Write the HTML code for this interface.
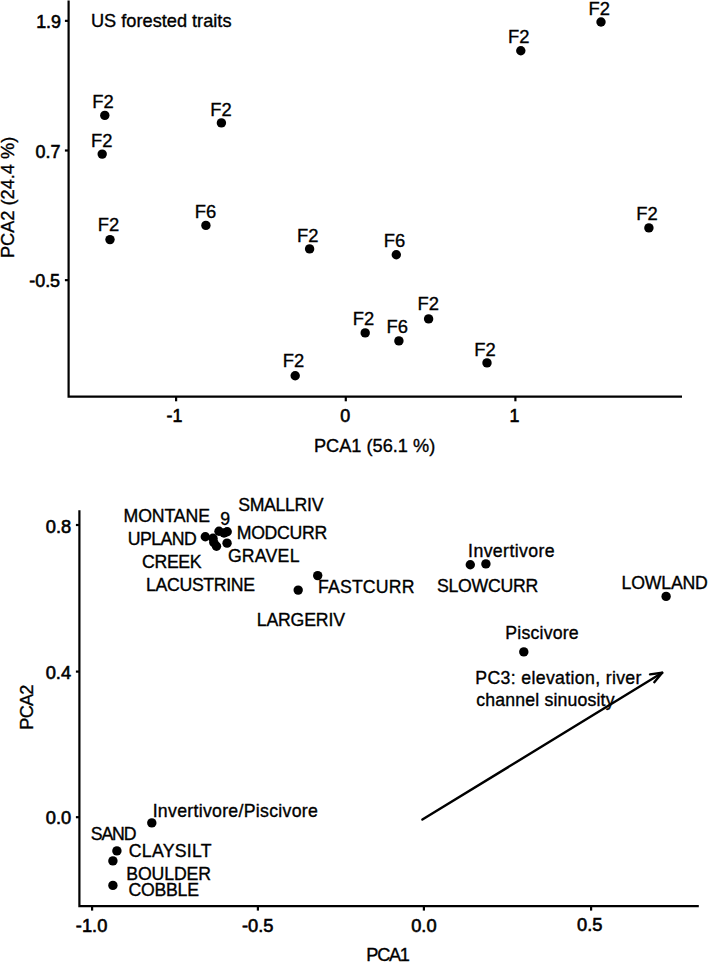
<!DOCTYPE html>
<html><head><meta charset="utf-8"><style>
html,body{margin:0;padding:0;background:#fff;}
svg{display:block;}
text{font-family:"Liberation Sans", sans-serif;fill:#000;text-anchor:middle;}
text.s{stroke:#000;stroke-width:0.35px;}
text.t{stroke:#000;stroke-width:0.6px;}
</style></head><body>
<svg width="709" height="962" viewBox="0 0 709 962">
<rect width="709" height="962" fill="#fff"/>
<g stroke="#000" stroke-width="2.2" stroke-linecap="butt" stroke-linejoin="miter">
<path d="M68.6 0.5 V396.7 H682" fill="none"/>
<line x1="64.9" y1="20.85" x2="68.6" y2="20.85"/>
<line x1="64.9" y1="150.50" x2="68.6" y2="150.50"/>
<line x1="64.9" y1="280.15" x2="68.6" y2="280.15"/>
<line x1="176.10" y1="396.7" x2="176.10" y2="401.3"/>
<line x1="345.80" y1="396.7" x2="345.80" y2="401.3"/>
<line x1="515.40" y1="396.7" x2="515.40" y2="401.3"/>
<path d="M79.4 510.3 V906.1 H698.8" fill="none"/>
<line x1="75.9" y1="525.00" x2="79.4" y2="525.00"/>
<line x1="75.9" y1="671.60" x2="79.4" y2="671.60"/>
<line x1="75.9" y1="817.20" x2="79.4" y2="817.20"/>
<line x1="92.10" y1="906.1" x2="92.10" y2="910.6"/>
<line x1="257.90" y1="906.1" x2="257.90" y2="910.6"/>
<line x1="423.90" y1="906.1" x2="423.90" y2="910.6"/>
<line x1="591.10" y1="906.1" x2="591.10" y2="910.6"/>
</g>
<g fill="#000">
<circle cx="104.80" cy="115.40" r="4.70"/>
<circle cx="102.20" cy="154.10" r="4.70"/>
<circle cx="221.40" cy="122.90" r="4.70"/>
<circle cx="601.00" cy="22.00" r="4.70"/>
<circle cx="520.80" cy="50.70" r="4.70"/>
<circle cx="205.90" cy="225.40" r="4.70"/>
<circle cx="648.90" cy="227.90" r="4.70"/>
<circle cx="110.00" cy="239.60" r="4.70"/>
<circle cx="309.60" cy="248.90" r="4.70"/>
<circle cx="396.30" cy="254.80" r="4.70"/>
<circle cx="428.60" cy="318.90" r="4.70"/>
<circle cx="365.20" cy="332.90" r="4.70"/>
<circle cx="398.90" cy="340.90" r="4.70"/>
<circle cx="487.00" cy="362.90" r="4.70"/>
<circle cx="295.20" cy="375.80" r="4.70"/>
<circle cx="205.30" cy="536.70" r="4.70"/>
<circle cx="213.00" cy="538.20" r="4.70"/>
<circle cx="213.80" cy="542.50" r="4.70"/>
<circle cx="216.50" cy="546.30" r="4.70"/>
<circle cx="219.00" cy="531.30" r="4.70"/>
<circle cx="227.20" cy="531.80" r="4.70"/>
<circle cx="224.00" cy="533.00" r="4.70"/>
<circle cx="227.05" cy="543.15" r="4.70"/>
<circle cx="317.70" cy="575.60" r="4.70"/>
<circle cx="298.20" cy="590.10" r="4.70"/>
<circle cx="470.30" cy="564.80" r="4.70"/>
<circle cx="485.90" cy="563.90" r="4.70"/>
<circle cx="666.10" cy="596.40" r="4.70"/>
<circle cx="523.80" cy="651.90" r="4.70"/>
<circle cx="151.80" cy="822.90" r="4.70"/>
<circle cx="116.90" cy="850.90" r="4.70"/>
<circle cx="112.90" cy="860.90" r="4.70"/>
<circle cx="112.90" cy="885.40" r="4.70"/>
</g>
<path d="M422.40 819.60 L662.20 672.80" fill="none" stroke="#000" stroke-width="2.4" stroke-linecap="round"/><path d="M650.0 674.4 L662.20 672.80 L654.3 682.2" fill="none" stroke="#000" stroke-width="2.4" stroke-linecap="round" stroke-linejoin="round"/>
<g>
<text x="103.10" y="108" font-size="18.4" font-weight="400" class="s">F2</text>
<text x="101.82" y="147" font-size="18.4" font-weight="400" class="s">F2</text>
<text x="221.00" y="116" font-size="18.4" font-weight="400" class="s">F2</text>
<text x="599.20" y="15" font-size="18.4" font-weight="400" class="s">F2</text>
<text x="518.85" y="43" font-size="18.4" font-weight="400" class="s">F2</text>
<text x="205.45" y="218" font-size="18.4" font-weight="400" class="s">F6</text>
<text x="647.10" y="220" font-size="18.4" font-weight="400" class="s">F2</text>
<text x="108.40" y="231" font-size="18.4" font-weight="400" class="s">F2</text>
<text x="307.80" y="242" font-size="18.4" font-weight="400" class="s">F2</text>
<text x="394.50" y="247" font-size="18.4" font-weight="400" class="s">F6</text>
<text x="428.18" y="310" font-size="18.4" font-weight="400" class="s">F2</text>
<text x="363.55" y="325" font-size="18.4" font-weight="400" class="s">F2</text>
<text x="397.30" y="333" font-size="18.4" font-weight="400" class="s">F6</text>
<text x="485.05" y="356" font-size="18.4" font-weight="400" class="s">F2</text>
<text x="293.55" y="367" font-size="18.4" font-weight="400" class="s">F2</text>
<text x="161.23" y="27" font-size="18.2" font-weight="400" class="s">US forested traits</text>
<text x="48.58" y="28" font-size="17.9" font-weight="400" class="t">1.9</text>
<text x="47.92" y="158" font-size="17.9" font-weight="400" class="t">0.7</text>
<text x="44.65" y="287" font-size="17.9" font-weight="400" class="t">-0.5</text>
<text x="174.55" y="422" font-size="17.9" font-weight="400" class="t">-1</text>
<text x="345.35" y="422" font-size="17.9" font-weight="400" class="t">0</text>
<text x="514.60" y="422" font-size="17.9" font-weight="400" class="t">1</text>
<text x="374.60" y="452" font-size="18.2" font-weight="400" class="s">PCA1 (56.1 %)</text>
<text transform="translate(14.00 197.15) rotate(-90)" x="-0.25" y="0" font-size="18.2" font-weight="400" class="s">PCA2 (24.4 %)</text>
<text x="388.10" y="961" font-size="18.2" font-weight="400" textLength="43.52" lengthAdjust="spacing" class="s">PCA1</text>
<text transform="translate(33.45 706.85) rotate(-90)" x="-0.25" y="0" font-size="18.2" font-weight="400" textLength="45.12" lengthAdjust="spacing" class="s">PCA2</text>
<text x="166.78" y="522" font-size="17.7" font-weight="400" textLength="86.48" lengthAdjust="spacing" class="s">MONTANE</text>
<text x="162.28" y="545" font-size="17.7" font-weight="400" textLength="69.07" lengthAdjust="spacing" class="s">UPLAND</text>
<text x="171.82" y="568" font-size="17.7" font-weight="400" textLength="59.64" lengthAdjust="spacing" class="s">CREEK</text>
<text x="280.82" y="511" font-size="17.7" font-weight="400" textLength="85.27" lengthAdjust="spacing" class="s">SMALLRIV</text>
<text x="225.25" y="525" font-size="17.7" font-weight="400" textLength="8.44" lengthAdjust="spacing" class="s">9</text>
<text x="282.02" y="539" font-size="17.7" font-weight="400" textLength="90.61" lengthAdjust="spacing" class="s">MODCURR</text>
<text x="263.68" y="562" font-size="17.7" font-weight="400" textLength="71.59" lengthAdjust="spacing" class="s">GRAVEL</text>
<text x="200.57" y="591" font-size="17.7" font-weight="400" textLength="108.99" lengthAdjust="spacing" class="s">LACUSTRINE</text>
<text x="366.20" y="593" font-size="17.7" font-weight="400" textLength="96.47" lengthAdjust="spacing" class="s">FASTCURR</text>
<text x="300.85" y="626" font-size="17.7" font-weight="400" textLength="88.25" lengthAdjust="spacing" class="s">LARGERIV</text>
<text x="511.35" y="557" font-size="17.7" font-weight="400" textLength="86.54" lengthAdjust="spacing" class="s">Invertivore</text>
<text x="487.60" y="592" font-size="17.7" font-weight="400" textLength="101.36" lengthAdjust="spacing" class="s">SLOWCURR</text>
<text x="664.70" y="589" font-size="17.7" font-weight="400" textLength="86.32" lengthAdjust="spacing" class="s">LOWLAND</text>
<text x="541.97" y="639" font-size="17.7" font-weight="400" textLength="73.28" lengthAdjust="spacing" class="s">Piscivore</text>
<text x="113.60" y="840" font-size="17.7" font-weight="400" textLength="45.69" lengthAdjust="spacing" class="s">SAND</text>
<text x="170.20" y="857" font-size="17.7" font-weight="400" textLength="82.88" lengthAdjust="spacing" class="s">CLAYSILT</text>
<text x="168.68" y="880" font-size="17.7" font-weight="400" textLength="84.76" lengthAdjust="spacing" class="s">BOULDER</text>
<text x="163.72" y="896" font-size="17.7" font-weight="400" textLength="70.57" lengthAdjust="spacing" class="s">COBBLE</text>
<text x="235.25" y="817" font-size="17.7" font-weight="400" textLength="165.18" lengthAdjust="spacing" class="s">Invertivore/Piscivore</text>
<text x="558.38" y="684" font-size="17.7" font-weight="400" textLength="166.04" lengthAdjust="spacing" class="s">PC3: elevation, river</text>
<text x="545.38" y="706" font-size="17.7" font-weight="400" textLength="138.31" lengthAdjust="spacing" class="s">channel sinuosity</text>
<text x="58.45" y="533" font-size="18.3" font-weight="400" class="t">0.8</text>
<text x="58.42" y="679" font-size="18.3" font-weight="400" class="t">0.4</text>
<text x="58.45" y="824" font-size="18.3" font-weight="400" class="t">0.0</text>
<text x="91.60" y="932" font-size="18.3" font-weight="400" class="t">-1.0</text>
<text x="257.70" y="932" font-size="18.3" font-weight="400" class="t">-0.5</text>
<text x="423.90" y="932" font-size="18.3" font-weight="400" class="t">0.0</text>
<text x="589.80" y="931" font-size="18.3" font-weight="400" class="t">0.5</text>
</g>
</svg>
</body></html>
